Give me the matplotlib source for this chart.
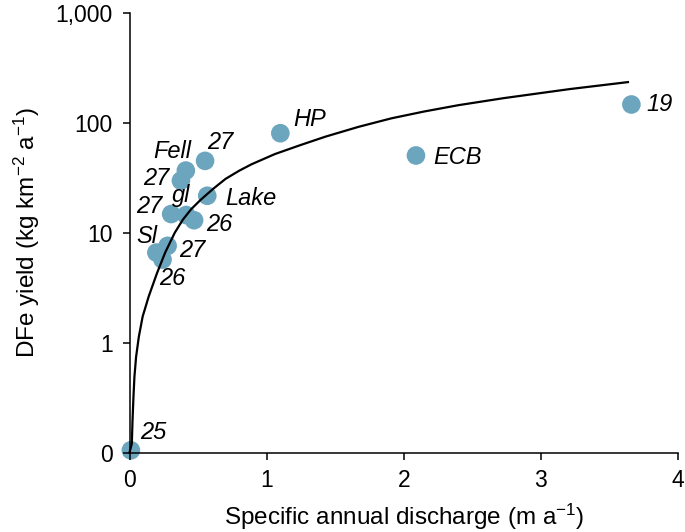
import matplotlib
matplotlib.use("Agg")
import matplotlib.pyplot as plt

# plot params
myparams = {
    'font.family'       : ['Liberation Sans', 'DejaVu Sans'],
    'font.size'         : 16.5,
    'mathtext.fontset'  : 'custom',
    'mathtext.rm'       : 'Liberation Sans',
    'mathtext.it'       : 'Liberation Sans:italic',
    'axes.linewidth'    : 1.1,
    'xtick.direction'   : 'out',
    'ytick.direction'   : 'out',
    'xtick.major.size'  : 5,
    'ytick.major.size'  : 5,
    'xtick.major.width' : 1.1,
    'ytick.major.width' : 1.1,
}
plt.rcParams.update(myparams)

## data
site_labels = ['25', 'Sl', '27', '26', '27', 'gl', '26', 'Lake', '27', 'Fell', '27', 'HP', 'ECB', '19']
discharge   = [0.01, 0.196, 0.278, 0.241, 0.304, 0.413, 0.471, 0.567, 0.375, 0.411, 0.551, 1.10, 2.089, 3.66]
dfe_yield   = [0.02, 6.6, 7.6, 5.7, 14.8, 14.5, 13.0, 21.7, 29.8, 36.8, 45.1, 80.5, 50.5, 147]

## fitted curve, traced point by point
fit_x = [0, 0.017, 0.022, 0.029, 0.036, 0.048, 0.068, 0.096, 0.14, 0.20, 0.26, 0.33, 0.39,
         0.45, 0.52, 0.61, 0.70, 0.80, 0.89, 1.06, 1.25, 1.43, 1.67, 1.91, 2.15, 2.40,
         2.73, 3.21, 3.635]
fit_y = [0, 0.08, 0.29, 0.51, 0.69, 0.87, 1.13, 1.73, 2.63, 4.27, 6.6, 10.0, 13.2,
         16.4, 20.0, 25.1, 30.9, 36.7, 42, 52, 63, 75, 92, 110, 127, 145,
         168, 203, 235]

yticks      = [0, 1, 10, 100, 1000]
ytick_text  = ['0', '1', '10', '100', '1,000']
xticks      = [0, 1, 2, 3, 4]

# label placement: (dx, dy) in pixels, horizontal alignment
label_pos = [(22, 18, 'center'), (1, 16, 'right'), (12, -5, 'left'), (10, -19, 'center'),
             (-9, 8, 'right'), (-5, 20, 'center'), (12, -4, 'left'), (18, -3, 'left'),
             (-12, 2, 'right'), (-14, 19, 'center'), (2, 18, 'left'), (13, 14, 'left'),
             (17, -2, 'left'), (15, 0, 'left')]

fig = plt.figure(figsize=(6.85, 5.32), dpi=100)
ax = fig.add_axes([129.5/685, 79.5/532, 548.5/685, 439.5/532])

ax.scatter(discharge, dfe_yield, s=180, color='#6ca5be', edgecolors='none',
           zorder=1, clip_on=False)
ax.plot(fit_x, fit_y, color='black', lw=1.6, zorder=3, clip_on=False)

for lab, x, y, (dx, dy, ha) in zip(site_labels, discharge, dfe_yield, label_pos):
    ax.annotate(lab, (x, y), xytext=(dx, dy), textcoords='offset pixels',
                ha=ha, va='center', fontsize=17, style='italic')

ax.set_yscale('symlog', linthresh=1, linscale=0.9)
ax.set_ylim(0, 1000)
ax.set_xlim(0, 4)
ax.set_yticks(yticks)
ax.set_yticklabels(ytick_text)
ax.set_xticks(xticks)
ax.yaxis.set_minor_locator(matplotlib.ticker.NullLocator())
ax.tick_params(axis='y', labelsize=16.5, pad=7)
ax.tick_params(axis='x', labelsize=16.5, pad=7)

for side in ['top', 'right']:
    ax.spines[side].set_visible(False)

ax.set_xlabel('Specific annual discharge (m a$^{\\mathregular{-1}}$)', fontsize=17.5, labelpad=7)
ax.set_ylabel('DFe yield (kg km$^{\\mathregular{-2}}$ a$^{\\mathregular{-1}}$)', fontsize=17.5, labelpad=10)

fig.savefig('out.png', dpi=100)
